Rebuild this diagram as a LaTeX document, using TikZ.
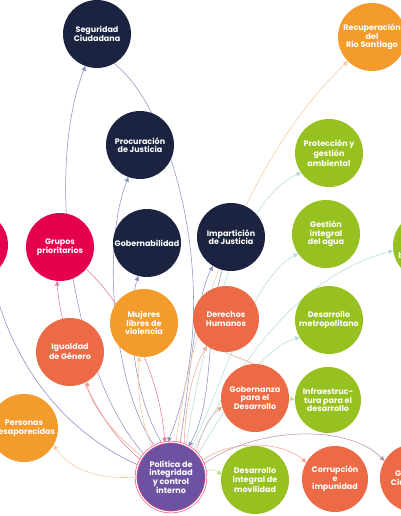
\documentclass[tikz,border=0pt]{standalone}
\usepackage{fontspec}
\setmainfont{Poppins}
\usetikzlibrary{arrows.meta,backgrounds}
\definecolor{navy}{HTML}{1B2340}
\definecolor{orng}{HTML}{F39C2B}
\definecolor{grn}{HTML}{97C121}
\definecolor{mag}{HTML}{E4004F}
\definecolor{salm}{HTML}{EC6A45}
\definecolor{purp}{HTML}{6C52A0}
\definecolor{ring}{HTML}{E8457A}
\definecolor{eslate}{HTML}{8C93C2}
\definecolor{epurp}{HTML}{8F86C4}
\definecolor{epink}{HTML}{DE7C9E}
\definecolor{esalm}{HTML}{F2A58E}
\definecolor{eorng}{HTML}{F6C89A}
\definecolor{eteal}{HTML}{B3DCD6}
\definecolor{egrn}{HTML}{C3DF8A}
\tikzset{
  topic/.style={circle, minimum size=68pt, inner sep=0pt, align=center, text=white,
    font=\fontsize{8pt}{8.6pt}\selectfont\bfseries},
  conn/.style={line width=0.55pt, -{Triangle[length=4.5pt,width=4.5pt]}},
  plain/.style={line width=0.55pt}
}
\begin{document}
\begin{tikzpicture}[x=1pt,y=-1pt]
\useasboundingbox (0,0) rectangle (400,516);
% nodes
\node[topic, fill=navy] (S) at (97,34) {Seguridad\\Ciudadana};
\node[topic, fill=navy] (Pj) at (140,145) {Procuración\\de Justicia};
\node[topic, fill=orng] (Rc) at (372,37) {Recuperación\\del\\Rio Santiago};
\node[topic, fill=grn] (Pr) at (329,153) {Protección y\\gestión\\ambiental};
\node[topic, fill=mag] (L) at (-26,245) {};
\node[topic, fill=mag] (G) at (60,247) {Grupos\\prioritarios};
\node[topic, fill=navy] (Gob) at (147,243) {Gobernabilidad};
\node[topic, fill=navy] (Imp) at (231,237) {Impartición\\de Justicia};
\node[topic, fill=grn] (Ag) at (326,234) {Gestión\\integral\\del agua};
\node[topic, fill=grn] (Rg) at (427,246) {Transición\\energética y\\biodiversidad};
\node[topic, fill=orng] (M) at (144,323) {Mujeres\\libres de\\violencia};
\node[topic, fill=salm, minimum size=66pt] (D) at (226,319) {Derechos\\Humanos};
\node[topic, fill=grn] (Dm) at (329,320) {Desarrollo\\metropolitano};
\node[topic, fill=salm] (I) at (70,352) {Igualdad\\de Género};
\node[topic, fill=orng] (Pe) at (24,428) {Personas\\desaparecidas};
\node[topic, fill=salm] (Gb) at (255,398) {Gobernanza\\para el\\Desarrollo};
\node[topic, fill=grn, minimum size=66pt] (If) at (328,400) {Infraestruc-\\tura para el\\desarrollo};
\node[topic, fill=grn] (Mv) at (255,480) {Desarrollo\\integral de\\movilidad};
\node[topic, fill=salm, minimum size=66pt] (C) at (335,479) {Corrupción\\e\\impunidad};
\node[topic, fill=salm] (R) at (414,478) {Gobierno\\Ciudadano};
\node[topic, fill=purp, minimum size=70pt, draw=ring, line width=0.6pt, double=white, double distance=1.2pt] (P) at (171,477) {Política de\\integridad\\y control\\interno};
% edges (behind nodes)
\begin{scope}[on background layer]
% slate / navy targets
\draw[conn, eslate] (P.140) .. controls (70,370) and (45,170) .. (S.250);
\draw[conn, eslate] (P.118) .. controls (115,390) and (100,250) .. (Pj.250);
\draw[conn, eslate] (P.105) .. controls (135,400) and (125,320) .. (Gob.255);
\draw[conn, eslate] (P.75) .. controls (190,380) and (195,300) .. (Imp.238);
\draw[conn, eslate] (S.300) .. controls (175,110) and (225,300) .. (P.95);
\draw[conn, eslate] (Imp.255) .. controls (205,330) and (215,400) .. (P.60);
% pink
\draw[conn, epink] (P.150) .. controls (90,420) and (60,330) .. (G.265);
\draw[conn, epink] (G.320) .. controls (130,310) and (160,380) .. (P.100);
\draw[plain, epurp] (P.160) .. controls (60,430) and (10,360) .. (L.300);
% orange / salmon
\draw[conn, esalm] (P.145) .. controls (115,435) and (90,405) .. (I.300);
\draw[conn, eorng] (P.180) .. controls (100,480) and (70,470) .. (Pe.330);
\draw[conn, eorng] (P.122) .. controls (140,420) and (137,390) .. (M.262);
\draw[conn, esalm] (P.68) .. controls (185,400) and (195,365) .. (D.235);
\draw[conn, esalm] (P.45) .. controls (200,440) and (205,420) .. (Gb.195);
\draw[plain, esalm] (D.268) -- (Gb.92);
\draw[conn, eorng] (P.82) .. controls (195,300) and (255,150) .. (Rc.225);
% green / teal
\draw[conn, egrn] (P.8) .. controls (205,470) and (215,468) .. (Mv.172);
\draw[conn, egrn] (Gb.east) -- (If.west);
\draw[conn, eteal] (P.65) .. controls (205,330) and (240,200) .. (Pr.215);
\draw[conn, eteal] (P.55) .. controls (225,380) and (250,280) .. (Ag.215);
\draw[conn, eteal] (P.50) .. controls (240,360) and (300,275) .. (Rg.188);
\draw[conn, eteal] (P.40) .. controls (230,400) and (260,350) .. (Dm.210);
% arcs along bottom
\draw[conn, esalm] (P.28) .. controls (230,440) and (280,440) .. (C.150);
\draw[conn, epurp!60!esalm] (P.22) .. controls (260,425) and (350,425) .. (R.150);
\end{scope}
\end{tikzpicture}
\end{document}
